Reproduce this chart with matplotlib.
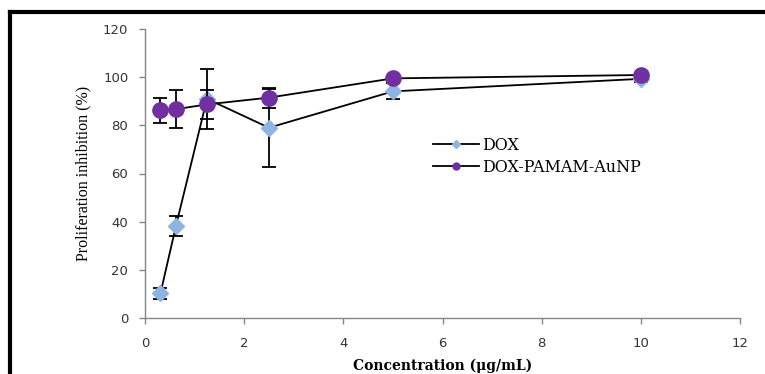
import matplotlib
matplotlib.use("Agg")
import matplotlib.pyplot as plt
from matplotlib.lines import Line2D

# Data
conc = [0.3125, 0.625, 1.25, 2.5, 5, 10]
dox = [10.3, 38.3, 91.0, 79.0, 94.1, 99.3]
dox_err = [2.3, 4.2, 12.5, 16.2, 3.3, 1.5]
pamam = [86.2, 86.7, 88.7, 91.5, 99.5, 100.9]
pamam_err = [5.3, 7.9, 6.0, 4.2, 0.8, 0.8]
x_ticks = [0, 2, 4, 6, 8, 10, 12]
y_ticks = [0, 20, 40, 60, 80, 100, 120]

fig = plt.figure(figsize=(7.65, 3.74), dpi=100)
ax = fig.add_axes([145/765, 1-318/374, (740-145)/765, (318-29)/374])

# DOX series
ax.errorbar(conc, dox, yerr=dox_err, fmt='none', ecolor='black', elinewidth=1.3,
            capsize=5, capthick=1.3, zorder=2)
ax.plot(conc, dox, color='black', lw=1.3, marker='D', markersize=8.5,
        markerfacecolor='#8DB4E2', markeredgecolor='#8DB4E2', zorder=3, label='DOX')
# DOX-PAMAM-AuNP series
ax.errorbar(conc, pamam, yerr=pamam_err, fmt='none', ecolor='black', elinewidth=1.3,
            capsize=5, capthick=1.3, zorder=4)
ax.plot(conc, pamam, color='black', lw=1.3, marker='o', markersize=11,
        markerfacecolor='#7030A0', markeredgecolor='#7030A0', zorder=5, label='DOX-PAMAM-AuNP')

ax.set_xlim(0, 12)
ax.set_ylim(0, 120)
ax.set_xticks(x_ticks)
ax.set_yticks(y_ticks)
for s in ['top', 'right']:
    ax.spines[s].set_visible(False)
for s in ['left', 'bottom']:
    ax.spines[s].set_color('#868686')
    ax.spines[s].set_linewidth(1.0)
ax.tick_params(axis='both', direction='out', length=4, width=1.0, color='#868686',
               labelsize=9.5, labelcolor='#333333', pad=8)
ax.tick_params(axis='x', pad=10)

ax.set_ylabel('Proliferation inhibition (%)', family='Liberation Serif', fontsize=11.5, labelpad=8)
ax.set_xlabel('Concentration (μg/mL)', family='DejaVu Serif', fontsize=10,
              fontweight='bold', labelpad=6)

handles = [Line2D([], [], color='black', lw=1.3, marker='D', markersize=4,
                  markerfacecolor='#8DB4E2', markeredgecolor='#8DB4E2'),
           Line2D([], [], color='black', lw=1.3, marker='o', markersize=5,
                  markerfacecolor='#7030A0', markeredgecolor='#7030A0')]
leg = ax.legend(handles, ['DOX', 'DOX-PAMAM-AuNP'], loc='upper left',
                bbox_to_anchor=((433-145)/595, (318-137)/289), frameon=False,
                prop={'family': 'DejaVu Serif', 'size': 11.5},
                handlelength=2.9, handletextpad=0.15, labelspacing=0.3, borderpad=0,
                borderaxespad=0)

# Figure frame (left and top black border)
fig.add_artist(Line2D([10/765, 10/765], [0, 1-12/374], transform=fig.transFigure,
                      color='black', lw=3, solid_capstyle='projecting'))
fig.add_artist(Line2D([10/765, 1], [1-12/374, 1-12/374], transform=fig.transFigure,
                      color='black', lw=3, solid_capstyle='projecting'))

fig.savefig('out.png', dpi=100)
